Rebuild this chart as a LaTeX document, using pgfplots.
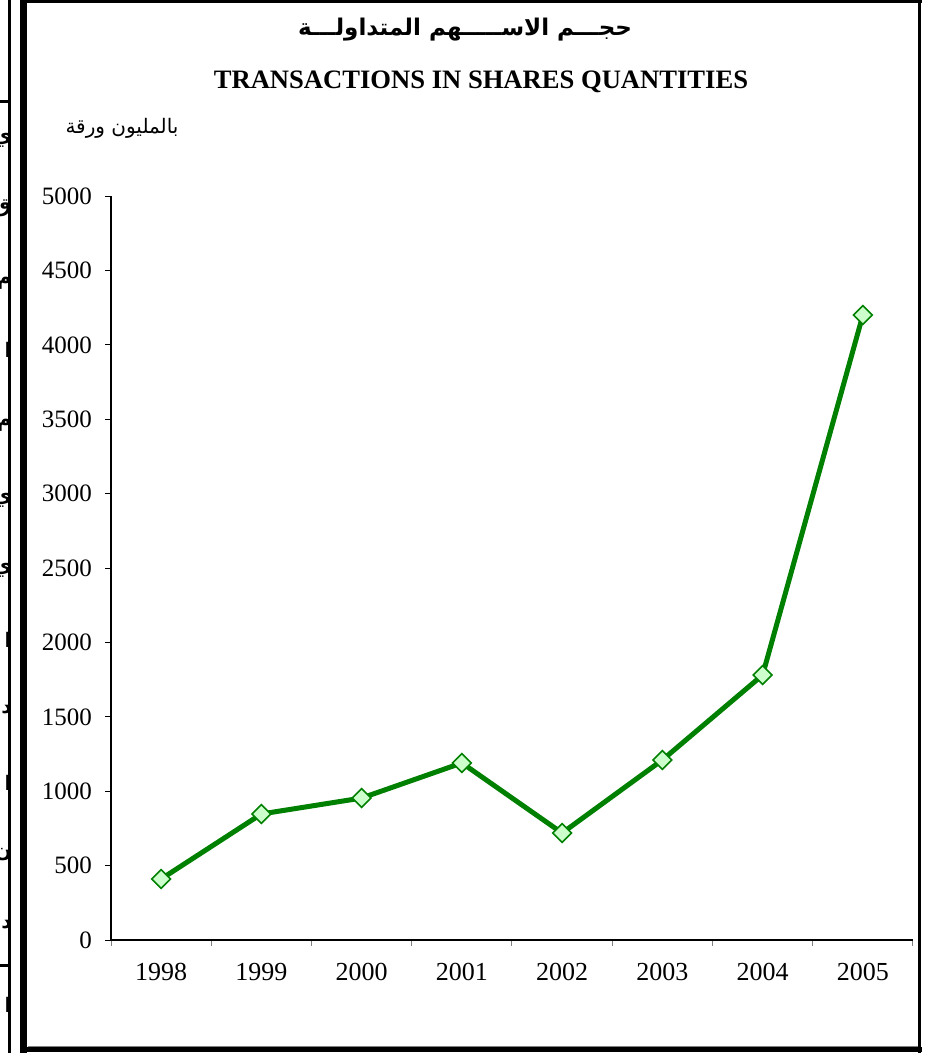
\documentclass[border=0pt]{standalone}
\usepackage{fontspec}
\setmainfont{Liberation Serif}
\newfontfamily\arabicfont[Script=Arabic]{DejaVu Sans}
\TeXXeTstate=1
\usepackage{pgfplots}
\pgfplotsset{compat=1.18}

\definecolor{linegreen}{HTML}{008000}
\definecolor{markfill}{HTML}{CCFFCC}

% 1 px of the reference = 0.5pt
\begin{document}
\begin{tikzpicture}
\begin{scope}[x=0.5pt,y=-0.5pt]
\path[use as bounding box] (0,0) rectangle (937,1053);

% fragment of the neighbouring page on the left
\draw[line width=1.5pt] (9.5,0) -- (9.5,1053);
\draw[line width=1.5pt] (0,102) -- (9,102);
\draw[line width=1.5pt] (0,965) -- (9,965);
\begin{scope}
  \clip (0,0) rectangle (8,1053);
  \foreach \yy/\ch in {140/ي,208/ق,283/م,350/ا,425/م,500/ي,570/ي,640/ا,710/د,783/ا,855/ن,925/د,1005/ا}
    \node[anchor=east,inner sep=0pt,font=\arabicfont\bfseries\fontsize{10}{12}\selectfont] at (12,\yy) {\beginR\ch\endR};
\end{scope}

% frame round the chart
\draw[line width=3.5pt] (23.5,0) -- (23.5,1053);
\draw[line width=1.5pt] (20,1.5) -- (922,1.5);
\draw[line width=1.5pt] (919.5,0) -- (919.5,1053);
\draw[line width=2.5pt] (20,1049.5) -- (922,1049.5);
\draw[gray,line width=0.5pt] (27.5,1046.5) -- (917.5,1046.5);

% titles
\node[font=\arabicfont\bfseries\fontsize{11.5}{13}\selectfont] at (465,30)
  {\beginR حجـــم الاســـــهم  المتداولـــة\endR};
\node[font=\bfseries\fontsize{13.3}{15}\selectfont] at (481,82)
  {TRANSACTIONS IN SHARES QUANTITIES};
\node[font=\arabicfont\fontsize{10}{12}\selectfont] at (122,128)
  {\beginR بالمليون ورقة\endR};
\end{scope}

\begin{axis}[
    at={(55.5pt,-470pt)}, anchor=south west,
    scale only axis,
    width=401pt, height=372pt,
    xmin=-0.5, xmax=7.5,
    ymin=0, ymax=5000,
    axis lines=left,
    axis line style={-, black, line width=0.6pt},
    tick align=outside,
    major tick length=3pt,
    ytick={0,500,...,5000},
    ytick style={black, line width=0.5pt},
    yticklabel style={font=\fontsize{12.5}{14}\selectfont, xshift=-3pt},
    /pgf/number format/assume math mode=true,
    /pgf/number format/1000 sep={},
    xtick={-0.5,0.5,...,7.5},
    xticklabels={},
    xtick style={gray, line width=0.5pt},
    extra x ticks={0,1,2,3,4,5,6,7},
    extra x tick labels={1998,1999,2000,2001,2002,2003,2004,2005},
    extra x tick style={major tick length=0pt,
      xticklabel style={font=\fontsize{13}{15}\selectfont, yshift=-8pt}},
    clip=false,
]
\addplot[color=linegreen, line width=2.5pt,
    mark=square*, mark size=3.3pt,
    mark options={fill=markfill, draw=linegreen, line width=0.8pt, solid, rotate=45}]
coordinates {
    (0,410) (1,847) (2,954) (3,1190)
    (4,719) (5,1210) (6,1781) (7,4200)
};
\end{axis}
\end{tikzpicture}
\end{document}
